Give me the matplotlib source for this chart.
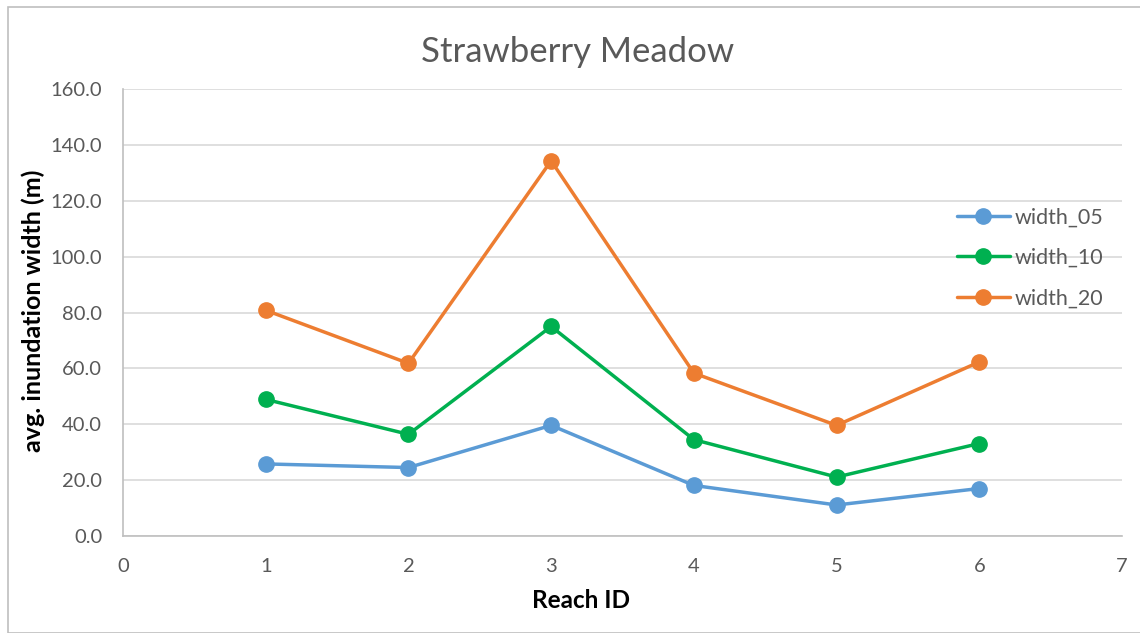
import matplotlib
matplotlib.use("Agg")
import matplotlib.pyplot as plt
from matplotlib.patches import Rectangle
from matplotlib.ticker import FormatStrFormatter, MultipleLocator

plt.rcParams['font.family'] = ['Lato', 'DejaVu Sans']

reach_id = [1, 2, 3, 4, 5, 6]
width_05 = [25.8, 24.5, 39.6, 18.1, 11.1, 17.0]
width_10 = [48.9, 36.4, 75.0, 34.5, 21.1, 33.1]
width_20 = [80.8, 61.8, 134.3, 58.3, 39.6, 62.3]

series = [
    ("width_05", width_05, "#5B9BD5"),
    ("width_10", width_10, "#00B050"),
    ("width_20", width_20, "#ED7D31"),
]

W, H = 1140, 633
fig = plt.figure(figsize=(W / 100, H / 100), dpi=100)
fig.patches.append(Rectangle((8 / W, 0), 1.2, 1 - 7 / H, transform=fig.transFigure,
                             fill=False, edgecolor="#bfbfbf", linewidth=1.2))

ax = fig.add_axes([123 / W, 1 - 536 / H, (1122 - 123) / W, (536 - 89) / H])

for name, vals, color in series:
    ax.plot(reach_id, vals, color=color, linewidth=2.5, marker="o", markersize=11,
            label=name, solid_capstyle="round")

ax.set_xlim(0, 7)
ax.set_ylim(0, 160)
ax.xaxis.set_major_locator(MultipleLocator(1))
ax.yaxis.set_major_locator(MultipleLocator(20))
ax.yaxis.set_major_formatter(FormatStrFormatter("%.1f"))
ax.grid(axis="y", color="#d9d9d9", linewidth=1.2)
ax.set_axisbelow(True)
for s in ("top", "right"):
    ax.spines[s].set_visible(False)
for s in ("left", "bottom"):
    ax.spines[s].set_color("#bfbfbf")
    ax.spines[s].set_linewidth(1.2)
ax.tick_params(length=0, labelsize=14.5, labelcolor="#595959")
ax.tick_params(axis="y", pad=15)
ax.tick_params(axis="x", pad=16)

fig.text(578 / W, 1 - 52 / H, "Strawberry Meadow", fontsize=25, color="#595959",
         ha="center", va="center")

ax.set_xlabel("Reach ID", fontsize=17.5, fontweight="bold", va="center")
ax.xaxis.set_label_coords((581 - 123) / 999, -(600 - 536) / 447)
ax.set_ylabel("avg. inundation width (m)", fontsize=18, fontweight="bold", va="center")
ax.yaxis.set_label_coords((33 - 123) / 999, (536 - 311) / 447)

leg = ax.legend(loc="center left", bbox_to_anchor=((957 - 123) / 999, (536 - 258) / 447),
                frameon=False, fontsize=15.5, handlelength=2.45, handletextpad=0.25,
                labelspacing=0.95, borderpad=0, borderaxespad=0)
for t in leg.get_texts():
    t.set_color("#595959")

fig.savefig("out.png", dpi=100)
